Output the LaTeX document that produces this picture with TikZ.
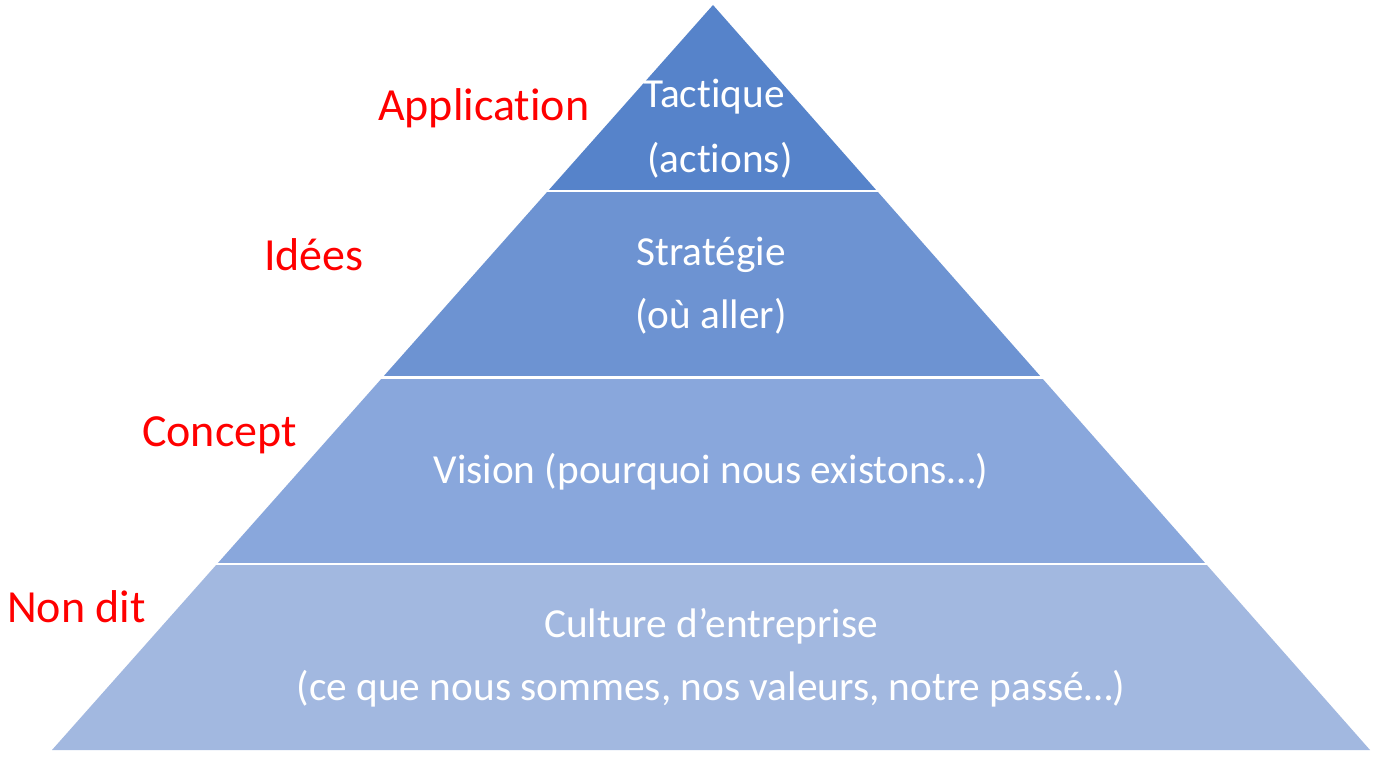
\documentclass[tikz,border=0pt]{standalone}
\usepackage{fontspec}
\setmainfont[Ligatures=NoCommon]{Carlito}
\usetikzlibrary{calc}
\definecolor{bandA}{HTML}{5683CA}
\definecolor{bandB}{HTML}{6D93D2}
\definecolor{bandC}{HTML}{89A7DC}
\definecolor{bandD}{HTML}{A2B8E0}
\definecolor{lblred}{HTML}{FF0000}
\tikzset{
  wtext/.style={text=white, font=\fontsize{41.3}{48}\selectfont, anchor=base, inner sep=0pt},
  rtext/.style={text=lblred, font=\fontsize{46}{52}\selectfont, anchor=base west, inner sep=0pt},
  gap/.style={draw=white, line width=2.2pt}
}
\begin{document}
\begin{tikzpicture}[x=1pt,y=-1pt]
\useasboundingbox[fill=white] (0,0) rectangle (1374,757);
\coordinate (apex) at (713,5);
\coordinate (bl) at (52,750);
\coordinate (br) at (1370,750);
\foreach \i/\a/\b/\c in {1/0/0.25/bandA,2/0.25/0.5/bandB,3/0.5/0.75/bandC,4/0.75/1/bandD}{
  \fill[\c] ($(apex)!\a!(bl)$) -- ($(apex)!\b!(bl)$) -- ($(apex)!\b!(br)$) -- ($(apex)!\a!(br)$) -- cycle;
}
\foreach \t in {0.25,0.5,0.75}{
  \draw[gap] ($(apex)!\t!(bl)+(-2,0)$) -- ($(apex)!\t!(br)+(2,0)$);
}
\node[wtext] (tac) at (714,108) {Tactique};
\node[wtext] (act) at (720,172) {(actions)};
\node[wtext] (str) at (711,265) {Stratégie};
\node[wtext] (ou) at (711,328) {(où aller)};
\node[wtext] (vis) at (711,483) {Vision (pourquoi nous existons…)};
\node[wtext] (cul) at (711,637) {Culture d’entreprise};
\node[wtext] (val) at (711,700) {(ce que nous sommes, nos valeurs, notre passé…)};
\node[rtext] (app) at (378,121) {Application};
\node[rtext] (ide) at (264,270) {Idées};
\node[rtext] (con) at (142,446) {Concept};
\node[rtext] (non) at (7,622) {Non dit};
\end{tikzpicture}
\end{document}
